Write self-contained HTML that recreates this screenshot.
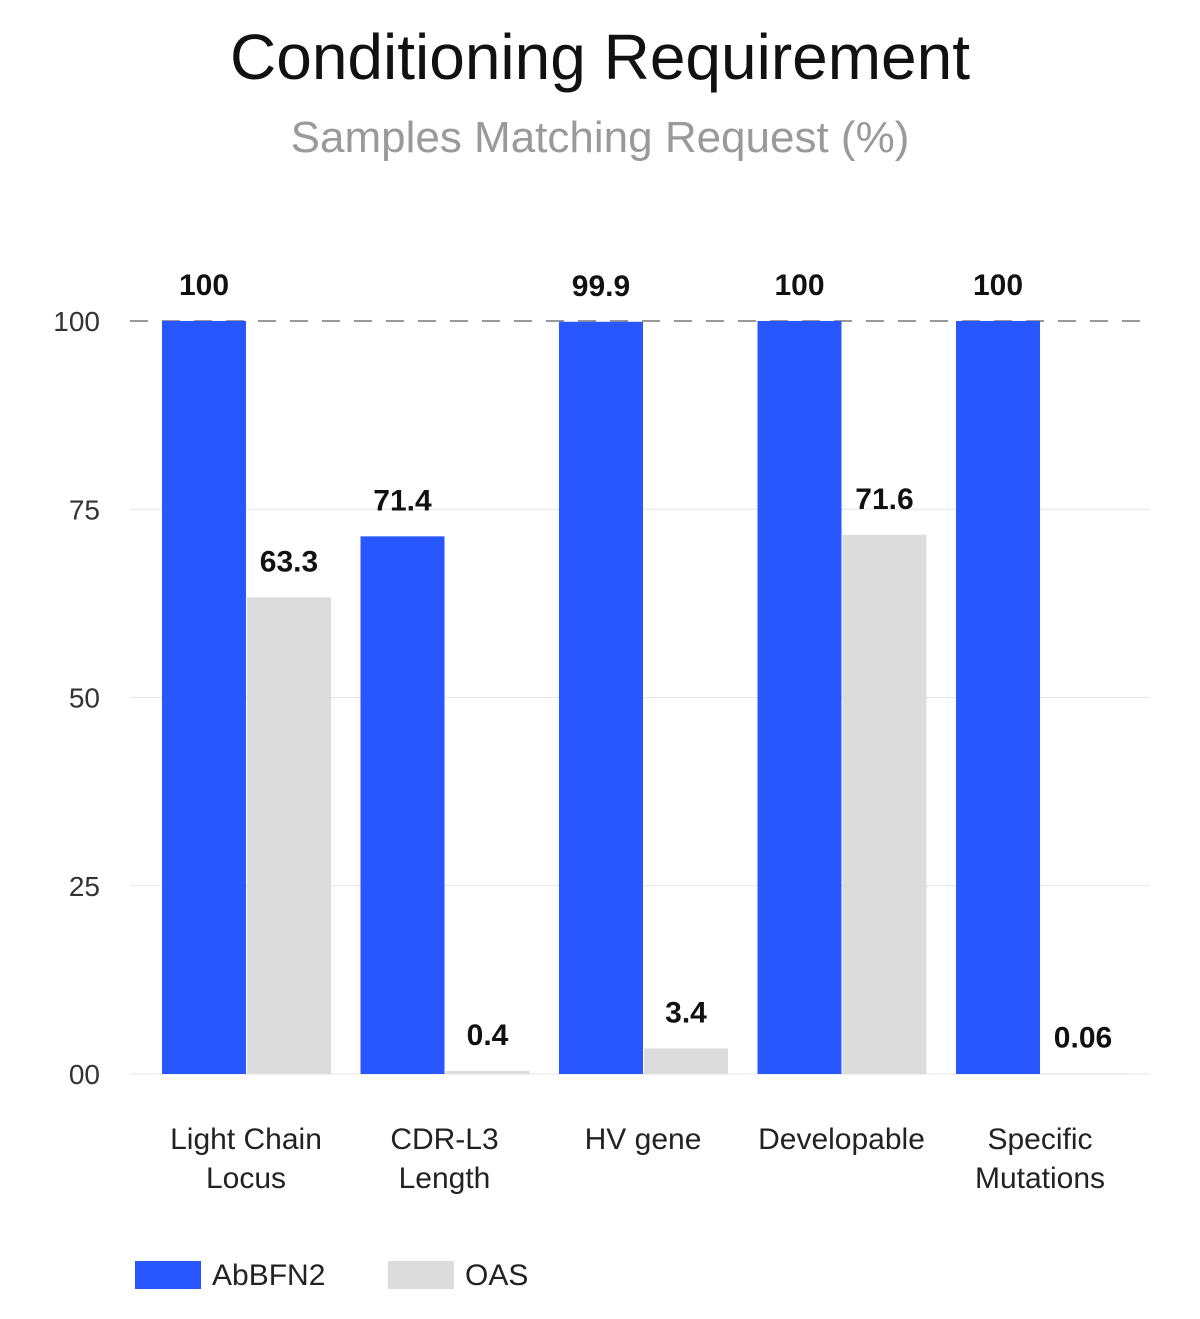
<!DOCTYPE html>
<html><head><meta charset="utf-8"><style>
body{margin:0;background:#fff;}
svg text{font-family:"Liberation Sans",sans-serif;}
</style></head><body>
<svg id="chart" width="1200" height="1314" viewBox="0 0 1200 1314">
<text x="600" y="79" text-anchor="middle" font-size="64" fill="#111">Conditioning Requirement</text>
<text x="600" y="152" text-anchor="middle" font-size="44" fill="#9a9a9a">Samples Matching Request (%)</text>
<g id="grid"></g><g id="bars"></g><g id="labels"></g>
<g>
<rect x="135" y="1261" width="66" height="28" fill="#2857ff"/>
<text x="212" y="1285" font-size="30" fill="#222">AbBFN2</text>
<rect x="388" y="1261" width="66" height="28" fill="#dcdcdc"/>
<text x="465" y="1285" font-size="30" fill="#222">OAS</text>
</g>
</svg>
<script>
const categories=[["Light Chain","Locus"],["CDR-L3","Length"],["HV gene"],["Developable"],["Specific","Mutations"]];
const abbfn2=[100,71.4,99.9,100,100];
const oas=[63.3,0.4,3.4,71.6,0.06];
const abbfnLabels=["100","71.4","99.9","100","100"];
const oasLabels=["63.3","0.4","3.4","71.6","0.06"];
const ticks=[0,25,50,75,100];
const tickLabels=["00","25","50","75","100"];
const NS="http://www.w3.org/2000/svg";
const y=v=>1074-v*7.53;
const x=i=>162+i*198.5;
const BW=84;
function mk(tag,attrs,parent,text){const e=document.createElementNS(NS,tag);for(const k in attrs)e.setAttribute(k,attrs[k]);if(text!==undefined)e.textContent=text;parent.appendChild(e);return e;}
const grid=document.getElementById('grid'),bars=document.getElementById('bars'),labels=document.getElementById('labels');
ticks.forEach((t,i)=>{
  const l=mk('line',{x1:130,x2:1150,y1:y(t),y2:y(t),stroke:t===100?'#999':'#e4e4e4','stroke-width':t===100?2:1,'stroke-dasharray':t===100?'18 14':'none'},grid);
  
  
  const tx=mk('text',{x:100,y:y(t)+10,'text-anchor':'end','font-size':28,fill:'#333'},grid,tickLabels[i]);
  
  
});
categories.forEach((c,i)=>{
  const b=mk('rect',{x:x(i),y:y(abbfn2[i]),width:BW,height:y(0)-y(abbfn2[i]),fill:'#2857ff'},bars);
  
  
  const g=mk('rect',{x:x(i)+BW+1,y:y(oas[i]),width:BW,height:Math.max(1,y(0)-y(oas[i])),fill:'#dcdcdc'},bars);
  
  
  const t1=mk('text',{x:x(i)+BW/2,y:y(abbfn2[i])-26,'text-anchor':'middle','font-size':30,'font-weight':'bold',fill:'#111'},labels,abbfnLabels[i]);
  
  
  const t2=mk('text',{x:x(i)+BW*1.5+1,y:y(oas[i])-26,'text-anchor':'middle','font-size':30,'font-weight':'bold',fill:'#111'},labels,oasLabels[i]);
  
  
  c.forEach((line,j)=>{
    const ct=mk('text',{x:x(i)+BW,y:1149+j*39,'text-anchor':'middle','font-size':30,fill:'#222'},labels,line);
    
    
  });
});
</script>
</body></html>
